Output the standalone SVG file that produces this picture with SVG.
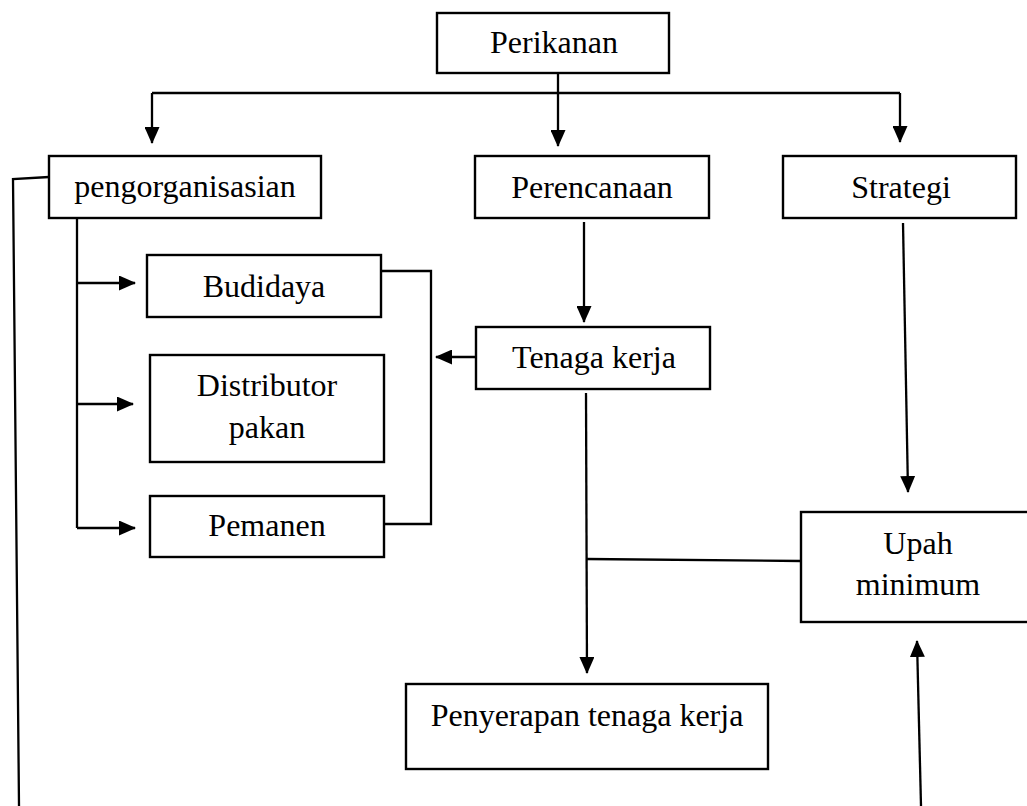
<svg xmlns="http://www.w3.org/2000/svg" width="1027" height="806" viewBox="0 0 1027 806">
<style>
.box{fill:#fff;stroke:#000;stroke-width:2.4}
.lbl{font-family:"Liberation Serif","Times New Roman",serif;font-size:32px;fill:#000;text-anchor:middle}
.ln{fill:none;stroke:#000;stroke-width:2.3}
.ar{fill:none;stroke:#000;stroke-width:2.3;marker-end:url(#ah)}
</style>
<defs>
<marker id="ah" viewBox="0 0 17 15" markerWidth="17" markerHeight="15" refX="16" refY="7.5" orient="auto" markerUnits="userSpaceOnUse">
<path d="M0,0 L17,7.5 L0,15 z" fill="#000"/>
</marker>
</defs>
<rect width="1027" height="806" fill="#fff"/>
<g id="connectors">
<path class="ar" d="M558,73 L558,146"/>
<path class="ln" d="M152,93 L900,93"/>
<path class="ar" d="M152,93 L152,143"/>
<path class="ar" d="M900,93 L900,142"/>
<path class="ln" d="M49,177 L13,179 L19,806"/>
<path class="ln" d="M77,218 L77,528"/>
<path class="ar" d="M77,283 L135,283"/>
<path class="ar" d="M77,404 L133,404"/>
<path class="ar" d="M77,528 L135,528"/>
<path class="ln" d="M381,271 L431,271 L431,524 L384,524"/>
<path class="ar" d="M476,357 L436,357"/>
<path class="ar" d="M584,222 L584,322"/>
<path class="ar" d="M586,393 L587,673"/>
<path class="ln" d="M586,559 L801,561"/>
<path class="ar" d="M903,223 L908,492"/>
<path class="ar" d="M921,806 L917,641"/>
</g>
<g id="perikanan"><rect class="box" x="437" y="13" width="232" height="60"/><text class="lbl" x="554" y="53">Perikanan</text></g>
<g id="pengorganisasian"><rect class="box" x="49" y="156" width="272" height="62"/><text class="lbl" x="185" y="197">pengorganisasian</text></g>
<g id="perencanaan"><rect class="box" x="475" y="156" width="234" height="62"/><text class="lbl" x="592" y="198">Perencanaan</text></g>
<g id="strategi"><rect class="box" x="783" y="156" width="233" height="62"/><text class="lbl" x="901" y="198">Strategi</text></g>
<g id="budidaya"><rect class="box" x="147" y="255" width="234" height="62"/><text class="lbl" x="264" y="297">Budidaya</text></g>
<g id="distributor"><rect class="box" x="150" y="355" width="234" height="107"/><text class="lbl" x="267" y="396">Distributor</text><text class="lbl" x="267" y="438">pakan</text></g>
<g id="pemanen"><rect class="box" x="150" y="496" width="234" height="61"/><text class="lbl" x="267" y="536">Pemanen</text></g>
<g id="tenaga"><rect class="box" x="476" y="327" width="234" height="62"/><text class="lbl" x="594" y="368">Tenaga kerja</text></g>
<g id="upah"><rect class="box" x="801" y="512" width="240" height="110"/><text class="lbl" x="918" y="554">Upah</text><text class="lbl" x="918" y="595">minimum</text></g>
<g id="penyerapan"><rect class="box" x="406" y="684" width="362" height="85"/><text class="lbl" x="587" y="726">Penyerapan tenaga kerja</text></g>
</svg>
